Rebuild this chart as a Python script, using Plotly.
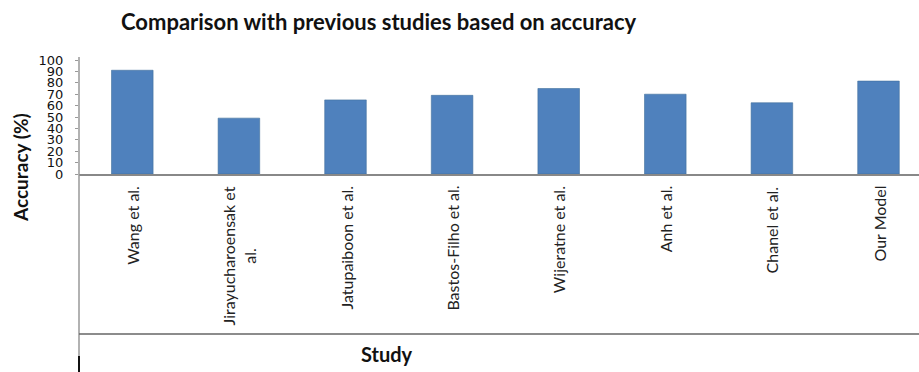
import plotly.graph_objects as go

# Accuracy (%) reported by each study
studies = [
    "Wang et al.",
    "Jirayucharoensak et<br>al.",
    "Jatupaiboon et al.",
    "Bastos-Filho et al.",
    "Wijeratne et al.",
    "Anh et al.",
    "Chanel et al.",
    "Our Model",
]
accuracy = [91, 49, 65, 69, 75, 70, 62.5, 81.5]
y_ticks = list(range(0, 101, 10))

W, H = 919, 372
L, T, B = 79, 60, 198
plot_h = H - T - B
plot_w = W - L


def px(x):
    return (x - L) / plot_w


def py(y):
    return (H - B - y) / plot_h


fig = go.Figure(
    go.Bar(
        x=list(range(len(studies))),
        y=accuracy,
        marker=dict(color="#4F81BD", line=dict(color="#41719C", width=0.6)),
        width=0.39,
    )
)

# category labels, rotated, wrapped lines centred
for i, name in enumerate(studies):
    fig.add_annotation(
        x=i, xref="x", y=py(184), yref="paper",
        text=name, textangle=-90, showarrow=False,
        xanchor="center", yanchor="top", align="center",
        font=dict(family="Lato", size=16, color="#222"),
    )

fig.add_annotation(
    x=px(379), y=py(21), xref="paper", yref="paper",
    text="<b>Comparison with previous studies based on accuracy</b>",
    showarrow=False, xanchor="center", yanchor="middle",
    font=dict(family="Lato", size=22, color="#111"),
)
fig.add_annotation(
    x=px(20), y=py(168), xref="paper", yref="paper",
    text="<b>Accuracy (%)</b>", textangle=-90,
    showarrow=False, xanchor="center", yanchor="middle",
    font=dict(family="Lato", size=19, color="#111"),
)
fig.add_annotation(
    x=px(387), y=py(354), xref="paper", yref="paper",
    text="<b>Study</b>",
    showarrow=False, xanchor="center", yanchor="middle",
    font=dict(family="Lato", size=20, color="#111"),
)

# frame lines around the category label area
fig.add_shape(type="line", xref="paper", yref="paper",
              x0=0, x1=0, y0=py(57), y1=py(372),
              line=dict(color="#999", width=1.5))
fig.add_shape(type="line", xref="paper", yref="paper",
              x0=0, x1=0, y0=py(356), y1=py(372),
              line=dict(color="#111", width=2))
fig.add_shape(type="line", xref="paper", yref="paper",
              x0=0, x1=1, y0=py(334), y1=py(334),
              line=dict(color="#666", width=1.5))

fig.update_layout(
    width=W, height=H,
    margin=dict(l=L, r=0, t=T, b=B),
    paper_bgcolor="white", plot_bgcolor="white",
    showlegend=False,
    xaxis=dict(
        range=[-0.5, -0.5 + plot_w / 106.6],
        showticklabels=False, ticks="", showgrid=False, zeroline=False,
        showline=True, linecolor="#888", linewidth=1.5,
    ),
    yaxis=dict(
        range=[0, 100], tickvals=y_ticks,
        ticks="outside", ticklen=3, tickcolor="#999",
        showgrid=False, zeroline=False, showline=False,
        ticklabelstandoff=9,
        tickfont=dict(family="DejaVu Sans", size=13, color="#111"),
    ),
)

fig.write_html("out.html")
